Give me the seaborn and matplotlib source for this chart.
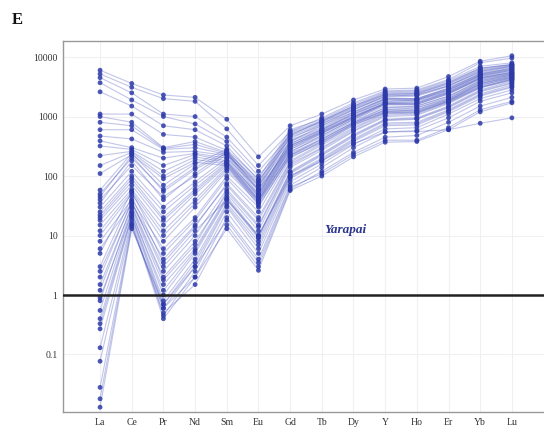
import matplotlib
matplotlib.use("Agg")
import matplotlib.pyplot as plt
import seaborn as sns
import pandas as pd

elements = ["La", "Ce", "Pr", "Nd", "Sm", "Eu", "Gd", "Tb", "Dy", "Y", "Ho", "Er", "Yb", "Lu"]
y_ticks = [0.1, 1, 10, 100, 1000, 10000]
y_tick_labels = ["0.1", "1", "10", "100", "1000", "10000"]

# chondrite-normalised REE values per sample
s01 = [6000, 3600, 2300, 2100, 900, 210, 700, 1100, 1900, 2900, 3000, 4700, 8500, 10500]
s02 = [5200, 3100, 2000, 1800, 620, 150, 560, 950, 1700, 2700, 2800, 4200, 8000, 9600]
s03 = [4500, 2500, 1100, 1000, 450, 120, 480, 850, 1500, 2500, 2600, 3800, 6500, 7500]
s04 = [3700, 1900, 1000, 750, 380, 100, 420, 750, 1300, 2200, 2300, 3300, 5800, 7000]
s05 = [2600, 1500, 700, 600, 320, 85, 380, 700, 1200, 2000, 2000, 3000, 5200, 6500]
s06 = [1100, 1100, 500, 450, 270, 70, 350, 600, 1100, 1800, 1900, 2800, 4800, 6000]
s07 = [1000, 800, 300, 380, 250, 60, 330, 560, 1000, 1700, 1700, 2600, 4500, 5500]
s08 = [600, 600, 280, 300, 230, 55, 300, 520, 950, 1600, 1600, 2400, 4200, 5200]
s09 = [470, 420, 250, 260, 220, 50, 280, 480, 900, 1500, 1500, 2200, 4000, 5000]
s10 = [390, 300, 200, 240, 200, 45, 260, 450, 850, 1400, 1400, 2100, 3800, 4800]
s11 = [320, 280, 150, 230, 180, 40, 240, 420, 800, 1300, 1300, 2000, 3600, 4600]
s12 = [220, 260, 120, 210, 170, 38, 230, 400, 780, 1250, 1250, 1900, 3400, 4400]
s13 = [150, 250, 100, 190, 160, 35, 220, 380, 750, 1200, 1200, 1800, 3200, 4200]
s14 = [110, 230, 90, 170, 150, 32, 210, 360, 720, 1150, 1150, 1750, 3100, 4000]
s15 = [58, 240, 70, 160, 280, 90, 600, 900, 1600, 2600, 2700, 4000, 7000, 8000]
s16 = [50, 200, 60, 140, 260, 80, 550, 850, 1500, 2400, 2500, 3700, 6500, 7500]
s17 = [40, 150, 45, 100, 230, 70, 500, 800, 1400, 2300, 2400, 3500, 6000, 7200]
s18 = [30, 120, 30, 80, 200, 60, 450, 700, 1300, 2100, 2200, 3200, 5500, 6800]
s19 = [25, 100, 25, 70, 180, 50, 400, 650, 1200, 2000, 2000, 3000, 5300, 6500]
s20 = [20, 80, 18, 55, 160, 45, 350, 600, 1100, 1900, 1900, 2800, 5000, 6200]
s21 = [15, 60, 12, 40, 140, 40, 300, 550, 1000, 1700, 1800, 2600, 4700, 5800]
s22 = [10, 50, 8, 30, 120, 35, 250, 480, 900, 1600, 1600, 2400, 4400, 5500]
s23 = [8, 40, 6, 20, 100, 30, 220, 420, 800, 1400, 1500, 2200, 4000, 5200]
s24 = [5, 55, 5, 18, 90, 25, 200, 380, 750, 1300, 1400, 2000, 3800, 5000]
s25 = [3, 45, 3.5, 14, 75, 20, 180, 350, 700, 1200, 1300, 1900, 3600, 4800]
s26 = [2, 38, 2.5, 10, 60, 15, 160, 300, 620, 1100, 1150, 1800, 3300, 4500]
s27 = [1.2, 32, 2, 8, 50, 12, 140, 270, 560, 1000, 1050, 1650, 3000, 4200]
s28 = [0.8, 28, 1.5, 6, 45, 10, 120, 240, 500, 900, 950, 1500, 2800, 3900]
s29 = [0.55, 25, 1.0, 5, 40, 9, 110, 220, 460, 850, 900, 1400, 2600, 3600]
s30 = [0.4, 22, 0.8, 4, 35, 8, 100, 200, 420, 780, 800, 1300, 2400, 3400]
s31 = [0.27, 20, 0.6, 3, 30, 6, 90, 180, 380, 700, 720, 1200, 2200, 3100]
s32 = [0.13, 18, 0.45, 2.5, 25, 5, 80, 160, 340, 620, 650, 1100, 2000, 2800]
s33 = [0.077, 16, 0.4, 2, 20, 4, 70, 140, 300, 550, 580, 950, 1800, 2500]
s34 = [0.028, 15, 0.5, 1.5, 15, 3, 60, 120, 250, 450, 480, 800, 1500, 2100]
s35 = [0.018, 14, 0.6, 2, 13, 2.6, 57, 100, 210, 370, 380, 600, 1200, 1700]
s36 = [0.013, 13, 0.7, 3, 18, 3.5, 65, 110, 230, 400, 400, 650, 1300, 1800]
s37 = [2.5, 35, 3, 12, 40, 10, 100, 180, 350, 550, 560, 600, 770, 950]
s38 = [35, 180, 40, 110, 250, 75, 520, 820, 1450, 2350, 2450, 3600, 6200, 7400]
s39 = [22, 90, 20, 60, 170, 48, 380, 620, 1150, 1950, 1950, 2900, 5100, 6300]
s40 = [12, 55, 10, 35, 130, 38, 280, 520, 950, 1650, 1700, 2500, 4500, 5600]
s41 = [6, 35, 4, 15, 70, 18, 170, 330, 650, 1150, 1200, 1850, 3500, 4600]
s42 = [1.5, 30, 1.8, 7, 55, 14, 150, 290, 580, 1050, 1100, 1700, 3100, 4300]
s43 = [0.9, 24, 1.2, 5.5, 42, 9.5, 115, 230, 480, 880, 920, 1450, 2700, 3700]
s44 = [45, 220, 55, 130, 240, 65, 470, 760, 1350, 2200, 2300, 3300, 5700, 7000]
s45 = [18, 70, 15, 50, 150, 42, 320, 580, 1050, 1800, 1850, 2700, 4900, 6000]
s46 = [0.33, 21, 0.7, 3.5, 32, 7, 95, 190, 400, 740, 760, 1250, 2300, 3200]
s47 = [800, 700, 290, 340, 240, 58, 320, 540, 980, 1650, 1650, 2500, 4300, 5300]

samples = [s01, s02, s03, s04, s05, s06, s07, s08, s09, s10, s11, s12, s13,
           s14, s15, s16, s17, s18, s19, s20, s21, s22, s23, s24, s25, s26,
           s27, s28, s29, s30, s31, s32, s33, s34, s35, s36, s37, s38, s39,
           s40, s41, s42, s43, s44, s45, s46, s47]

rows = []
for i, s in enumerate(samples):
    for j, (el, v) in enumerate(zip(elements, s)):
        rows.append({"sample": i, "pos": j, "element": el, "value": v})
df = pd.DataFrame(rows)

sns.set_theme(style="white")
plt.rcParams["font.family"] = ["Liberation Serif", "DejaVu Serif"]

fig = plt.figure(figsize=(5.44, 4.33), dpi=100)
ax = fig.add_axes([0.1158, 0.0485, 0.93, 0.8568])

line_col = "#4350bd"
sns.lineplot(data=df, x="pos", y="value", units="sample", estimator=None,
             color=line_col, alpha=0.33, linewidth=0.8, ax=ax, legend=False)
sns.scatterplot(data=df, x="pos", y="value", color="#2d3aa8", s=12,
                edgecolor="none", alpha=0.85, ax=ax, legend=False, zorder=3)

ax.set_yscale("log")
ax.set_ylim(0.0108, 18600)
ax.set_xlim(-1.17, 14.8)
ax.axhline(1, color="#222222", linewidth=1.8, zorder=4)

ax.set_yticks(y_ticks)
ax.set_yticklabels(y_tick_labels)
ax.yaxis.set_minor_locator(matplotlib.ticker.NullLocator())
ax.set_xticks(range(len(elements)))
ax.set_xticklabels(elements)
ax.tick_params(axis="both", labelsize=7, colors="#333333", length=0, pad=4)
ax.set_xlabel("")
ax.set_ylabel("")

ax.grid(True, color="#f0f0f4", linewidth=0.8)
for sp in ax.spines.values():
    sp.set_color("#999999")
    sp.set_linewidth(1.0)

ax.text(7.75, 12.5, "Yarapai", color="#2a3590", fontsize=9.5, style="italic",
        fontweight="bold", ha="center", va="center")
fig.text(0.022, 0.953, "E", fontsize=12, fontweight="bold", color="#111111",
         ha="left", va="center")

fig.savefig("out.png", dpi=100)
